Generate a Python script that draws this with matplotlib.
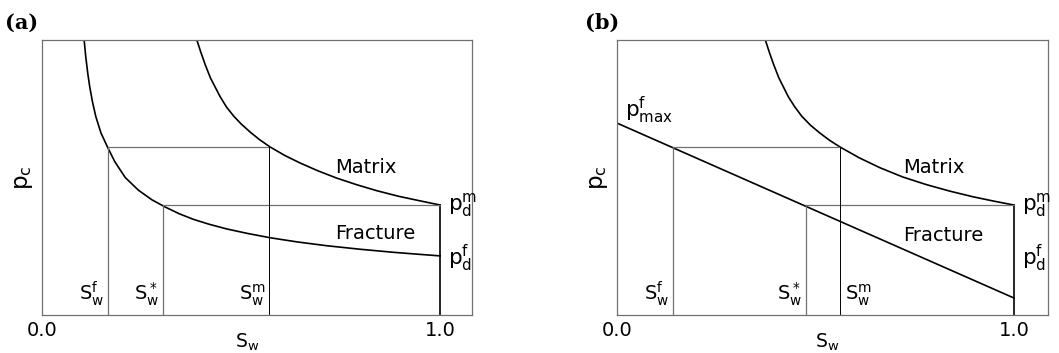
import numpy as np
import matplotlib
matplotlib.use("Agg")
import matplotlib.pyplot as plt

plt.rcParams['font.family'] = ['DejaVu Sans']
plt.rcParams['mathtext.default'] = 'regular'

# ---- panel (a): values (S_w, p_c normalised to the frame)
frac_a_sw = [0.106, 0.110, 0.115, 0.120, 0.127, 0.135, 0.148, 0.165, 0.183, 0.209, 0.242, 0.276,
             0.309, 0.345, 0.380, 0.420, 0.464, 0.515, 0.573, 0.640, 0.715, 0.800, 0.883, 0.945, 1.0]
frac_a_pc = [0.996, 0.937, 0.877, 0.828, 0.773, 0.722, 0.662, 0.609, 0.557, 0.500, 0.454, 0.419,
             0.393, 0.368, 0.348, 0.330, 0.313, 0.297, 0.281, 0.266, 0.252, 0.239, 0.228, 0.221, 0.215]
matrix_a_sw = [0.390, 0.399, 0.410, 0.423, 0.447, 0.463, 0.481, 0.500, 0.523, 0.547, 0.573,
               0.610, 0.648, 0.692, 0.740, 0.790, 0.841, 0.895, 0.950, 1.0]
matrix_a_pc = [0.995, 0.955, 0.910, 0.862, 0.795, 0.757, 0.724, 0.695, 0.665, 0.637, 0.611,
               0.580, 0.553, 0.525, 0.498, 0.474, 0.452, 0.432, 0.415, 0.400]
sat_a = {'f': 0.165, '*': 0.303, 'm': 0.571}

# ---- panel (b)
frac_b_sw = [0.0, 1.0]
frac_b_pc = [0.698, 0.062]
matrix_b_sw = [0.375, 0.384, 0.395, 0.408, 0.432, 0.448, 0.465, 0.487, 0.511, 0.536, 0.562,
               0.610, 0.662, 0.720, 0.780, 0.840, 0.897, 0.950, 1.0]
matrix_b_pc = [0.995, 0.955, 0.910, 0.862, 0.793, 0.757, 0.724, 0.691, 0.662, 0.635, 0.611,
               0.572, 0.536, 0.502, 0.474, 0.450, 0.430, 0.414, 0.400]
sat_b = {'f': 0.141, '*': 0.476, 'm': 0.562}

pc_high = 0.611   # level through S_w^f and S_w^m
pd_m = 0.400      # matrix entry pressure

fs = 14
fs_p = 15.5
gray = '#707070'


def draw_panel(ax, fsw, fpc, msw, mpc, sat, xmax):
    ax.plot(fsw, fpc, c='black', lw=1.2)
    ax.plot(msw, mpc, c='black', lw=1.2)
    # end of the curves at S_w = 1
    ax.plot([1.0, 1.0], [0, pd_m], c='black', lw=1.2)
    # construction lines
    ax.plot([sat['f'], sat['m']], [pc_high, pc_high], c=gray, lw=0.9)
    ax.plot([sat['*'], 1.0], [pd_m, pd_m], c=gray, lw=0.9)
    ax.plot([sat['f'], sat['f']], [0, pc_high], c=gray, lw=0.9)
    ax.plot([sat['*'], sat['*']], [0, pd_m], c=gray, lw=0.9)
    ax.plot([sat['m'], sat['m']], [0, pc_high], c='black', lw=0.7)

    ax.set_xlim(0, xmax)
    ax.set_ylim(0, 1)
    ax.set_xticks([])
    ax.set_yticks([])
    for s in ax.spines.values():
        s.set_color(gray)
        s.set_linewidth(0.9)
    ax.set_ylabel('$p_c$', fontsize=fs_p + 1, labelpad=5)
    ax.text(0.0, -0.02, '0.0', ha='center', va='top', fontsize=fs)
    ax.text(1.0, -0.02, '1.0', ha='center', va='top', fontsize=fs)
    ax.text(1.02, pd_m, '$p_d^m$', ha='left', va='center', fontsize=fs_p)


fig = plt.figure(figsize=(10.59, 3.53), dpi=100)
ax1 = fig.add_axes([0.0397, 0.1076, 0.406, 0.779])
ax2 = fig.add_axes([0.5826, 0.1076, 0.407, 0.779])

# (a)
draw_panel(ax1, frac_a_sw, frac_a_pc, matrix_a_sw, matrix_a_pc, sat_a, 1.080)
ax1.text(0.736, 0.538, 'Matrix', ha='left', va='center', fontsize=fs)
ax1.text(0.736, 0.295, 'Fracture', ha='left', va='center', fontsize=fs)
ax1.text(1.02, 0.205, '$p_d^f$', ha='left', va='center', fontsize=fs_p)
ax1.text(sat_a['f'] - 0.01, 0.025, '$S_w^f$', ha='right', va='bottom', fontsize=fs)
ax1.text(sat_a['*'] - 0.01, 0.025, '$S_w^*$', ha='right', va='bottom', fontsize=fs)
ax1.text(sat_a['m'] - 0.01, 0.025, '$S_w^m$', ha='right', va='bottom', fontsize=fs)
ax1.text(0.515, -0.088, '$S_w$', ha='center', va='center_baseline', fontsize=13.5)

# (b)
draw_panel(ax2, frac_b_sw, frac_b_pc, matrix_b_sw, matrix_b_pc, sat_b, 1.086)
ax2.text(0.72, 0.538, 'Matrix', ha='left', va='center', fontsize=fs)
ax2.text(0.72, 0.29, 'Fracture', ha='left', va='center', fontsize=fs)
ax2.text(1.02, 0.205, '$p_d^f$', ha='left', va='center', fontsize=fs_p)
ax2.text(0.02, 0.745, '$p_{max}^f$', ha='left', va='center', fontsize=fs_p)
ax2.text(sat_b['f'] - 0.01, 0.025, '$S_w^f$', ha='right', va='bottom', fontsize=fs)
ax2.text(sat_b['*'] - 0.01, 0.025, '$S_w^*$', ha='right', va='bottom', fontsize=fs)
ax2.text(sat_b['m'] + 0.012, 0.025, '$S_w^m$', ha='left', va='bottom', fontsize=fs)
ax2.text(0.529, -0.088, '$S_w$', ha='center', va='center_baseline', fontsize=13.5)

fig.text(0.005, 0.935, '(a)', fontsize=15, fontweight='bold', family='DejaVu Serif', va='center')
fig.text(0.552, 0.935, '(b)', fontsize=15, fontweight='bold', family='DejaVu Serif', va='center')

fig.savefig('out.png', dpi=100)
